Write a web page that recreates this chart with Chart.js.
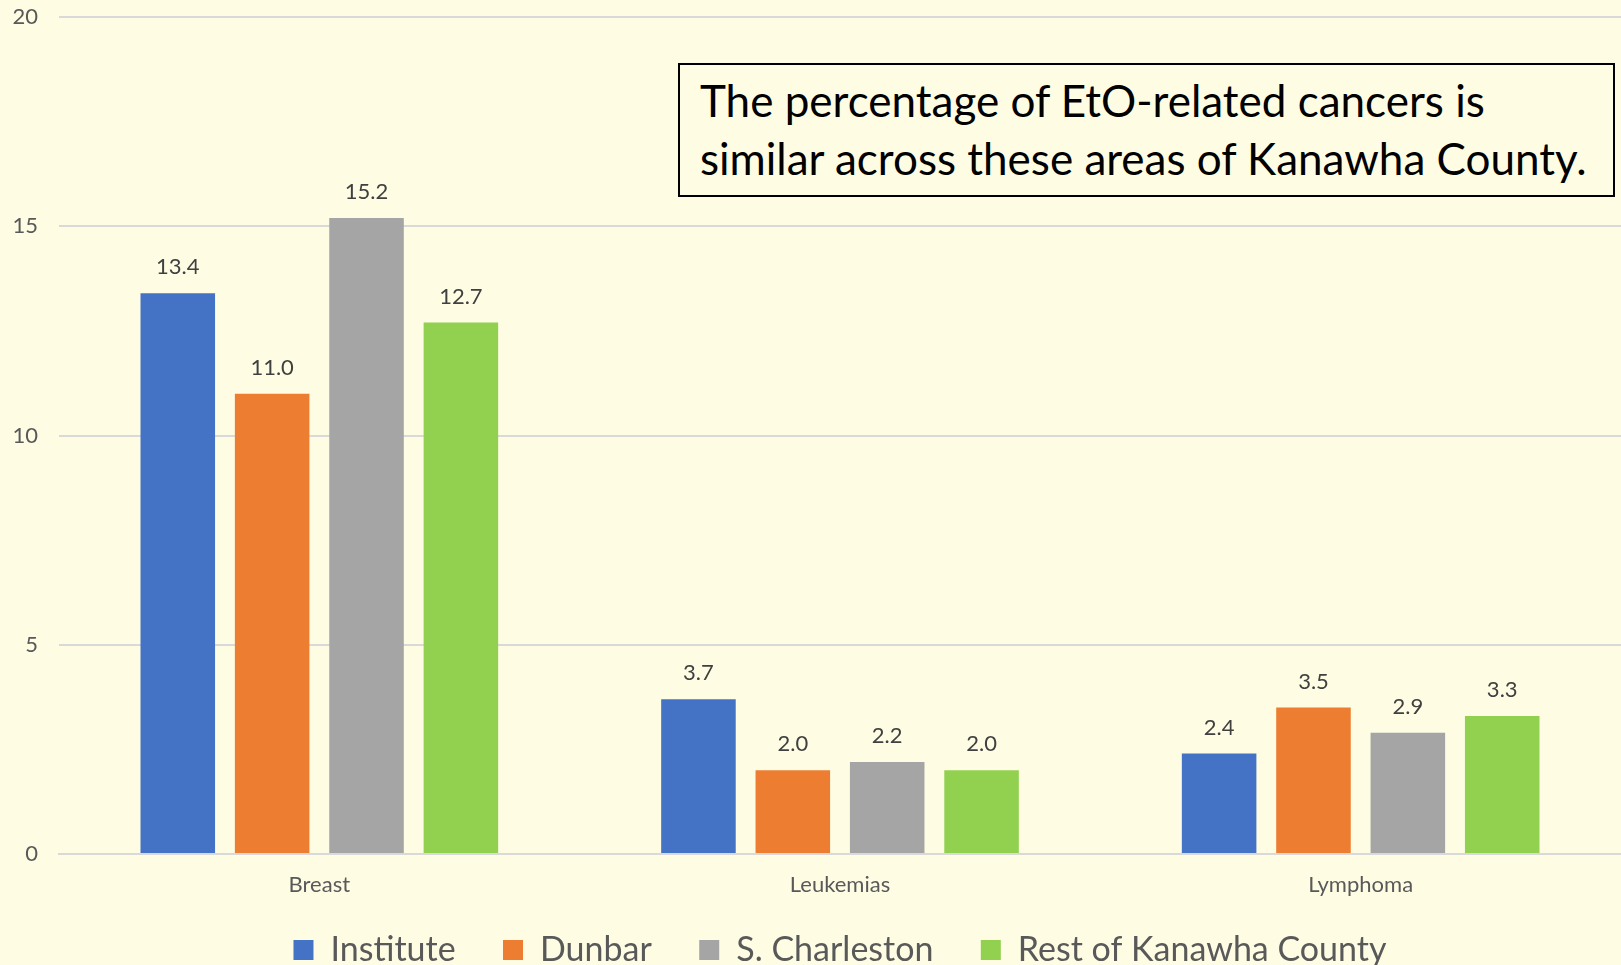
<!DOCTYPE html>
<html>
<head>
<meta charset="utf-8">
<script src="https://cdn.jsdelivr.net/npm/chart.js@4/dist/chart.umd.min.js"></script>
<style>
    html, body { margin: 0; padding: 0; background: #FEFDE4; }
    #wrap { position: relative; width: 1621px; height: 965px; overflow: hidden; }
    #note {
        position: absolute;
        left: 678px; top: 63px;
        width: 937px; height: 134px;
        box-sizing: border-box;
        border: 2px solid #000;
        background: #FEFDE4;
        padding: 6px 0 0 20px;
        font-family: Lato, sans-serif;
        font-size: 44px;
        line-height: 58px;
        color: #000;
        white-space: nowrap;
    }
</style>
</head>
<body>
<div id="wrap">
    <canvas id="cancerChart" width="1621" height="965"></canvas>
    <div id="note">The percentage of EtO-related cancers is<br>similar across these areas of Kanawha County.</div>
</div>
<script>
// Chart data
const categories = ['Breast', 'Leukemias', 'Lymphoma'];
const seriesNames = ['Institute', 'Dunbar', 'S. Charleston', 'Rest of Kanawha County'];
const instituteValues = [13.4, 3.7, 2.4];
const dunbarValues = [11.0, 2.0, 3.5];
const charlestonValues = [15.2, 2.2, 2.9];
const restValues = [12.7, 2.0, 3.3];
const yTicks = [0, 5, 10, 15, 20];

const fontFamily = 'Lato, sans-serif';

// Draw the value above each bar
const valueLabels = {
    id: 'valueLabels',
    afterDatasetsDraw(chart) {
        const ctx = chart.ctx;
        ctx.save();
        ctx.font = '22px ' + fontFamily;
        ctx.fillStyle = '#404040';
        ctx.textAlign = 'center';
        ctx.textBaseline = 'middle';
        chart.data.datasets.forEach((ds, i) => {
            chart.getDatasetMeta(i).data.forEach((bar, j) => {
                ctx.fillText(ds.data[j].toFixed(1), bar.x, bar.y - 26);
            });
        });
        ctx.restore();
    }
};

function makeDataset(label, data, color) {
    return {
        label: label,
        data: data,
        backgroundColor: color,
        borderWidth: 0,
        categoryPercentage: 0.725,
        barPercentage: 0.79
    };
}

const ctx = document.getElementById('cancerChart');
new Chart(ctx, {
    type: 'bar',
    data: {
        labels: categories,
        datasets: [
            makeDataset(seriesNames[0], instituteValues, '#4472C4'),
            makeDataset(seriesNames[1], dunbarValues, '#ED7D31'),
            makeDataset(seriesNames[2], charlestonValues, '#A5A5A5'),
            makeDataset(seriesNames[3], restValues, '#92D050')
        ]
    },
    options: {
        responsive: false,
        animation: false,
        layout: { padding: { top: 17, right: 0, bottom: -12, left: 0 } },
        plugins: {
            legend: {
                position: 'bottom',
                fullSize: false,
                labels: {
                    boxWidth: 20,
                    boxHeight: 20,
                    padding: 30,
                    color: '#595959',
                    font: { family: fontFamily, size: 34 },
                    generateLabels(chart) {
                        const items = Chart.defaults.plugins.legend.labels.generateLabels(chart);
                        // a little extra room after every item but the last
                        items.forEach((item, i) => {
                            if (i < items.length - 1) item.text += '  ';
                        });
                        return items;
                    }
                }
            },
            tooltip: { enabled: false }
        },
        scales: {
            x: {
                grid: { display: false },
                border: { color: '#D9D9D9', width: 2 },
                ticks: {
                    color: '#595959',
                    padding: 10,
                    font: { family: fontFamily, size: 22 }
                },
                afterFit(scale) { scale.height = 49; }
            },
            y: {
                min: yTicks[0],
                max: yTicks[yTicks.length - 1],
                afterBuildTicks(scale) {
                    scale.ticks = yTicks.map(v => ({ value: v }));
                },
                grid: { color: '#D9D9D9', lineWidth: 2, drawTicks: false },
                border: { display: false },
                ticks: {
                    color: '#595959',
                    padding: 21,
                    font: { family: fontFamily, size: 22 }
                },
                afterFit(scale) {
                    scale.width = 59;
                    scale.paddingTop = 0;
                    scale.paddingBottom = 0;
                }
            }
        }
    },
    plugins: [valueLabels]
});
</script>
</body>
</html>
